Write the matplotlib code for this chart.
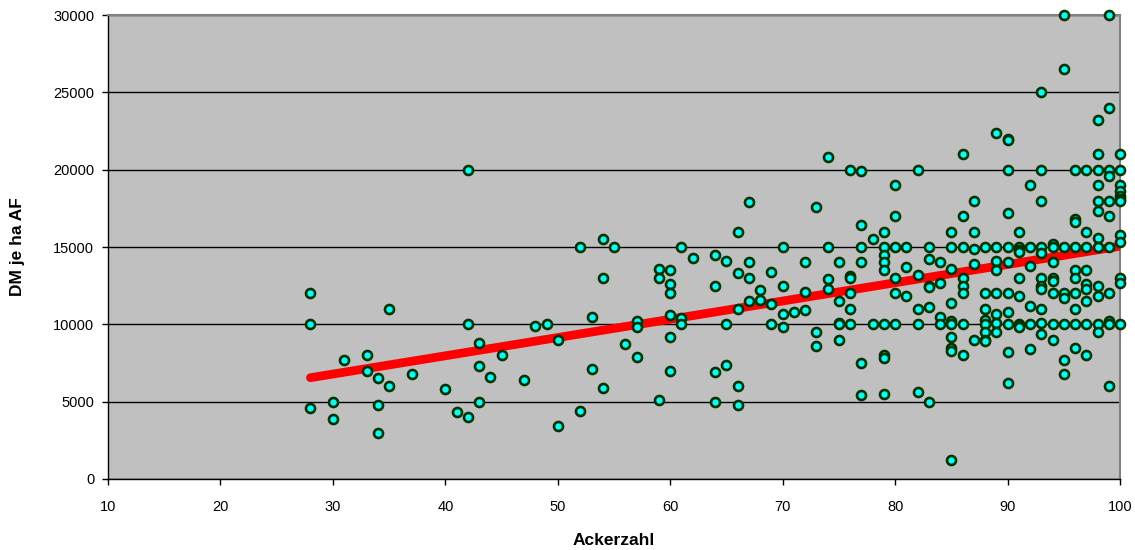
import matplotlib.pyplot as plt

# Ackerzahl (x) and DM je ha AF (y)
acker = [
    28, 28, 28, 30, 30, 31, 33, 33, 34, 34, 34, 35, 35, 37, 40, 41,
    42, 42, 42, 43, 43, 43, 44, 45, 47, 48, 49, 50, 50,
    52, 52, 53, 53, 54, 54, 54, 55, 56, 57, 57, 57,
    59, 59, 59, 60, 60, 60, 60, 60, 60, 61, 61, 61, 62,
    64, 64, 64, 64, 65, 65, 65, 66, 66, 66, 66, 66,
    67, 67, 67, 67, 68, 68, 69, 69, 69, 70, 70, 70, 70, 71,
    72, 72, 72, 73, 73, 73, 74, 74, 74, 74, 75, 75, 75, 75, 75,
    76, 76, 76, 76, 76, 76, 77, 77, 77, 77, 77, 77, 78, 78,
    79, 79, 79, 79, 79, 79, 79, 79, 79,
    80, 80, 80, 80, 80, 80, 81, 81, 81, 82, 82, 82, 82, 82,
    83, 83, 83, 83, 83, 83, 84, 84, 84, 84,
    85, 85, 85, 85, 85, 85, 85, 85, 85, 85,
    86, 86, 86, 86, 86, 86, 86, 86, 87, 87, 87, 87, 87,
    88, 88, 88, 88, 88, 88, 88, 88,
    89, 89, 89, 89, 89, 89, 89, 89,
    90, 90, 90, 90, 90, 90, 90, 90, 90, 90, 90,
    91, 91, 91, 91, 91, 91, 91, 91, 91,
    92, 92, 92, 92, 92, 92,
    93, 93, 93, 93, 93, 93, 93, 93, 93, 93, 93,
    94, 94, 94, 94, 94, 94, 94, 94,
    95, 95, 95, 95, 95, 95, 95, 95,
    96, 96, 96, 96, 96, 96, 96, 96, 96, 96,
    97, 97, 97, 97, 97, 97, 97, 97, 97,
    98, 98, 98, 98, 98, 98, 98, 98, 98, 98, 98, 98,
    99, 99, 99, 99, 99, 99, 99, 99, 99, 99, 99,
    100, 100, 100, 100, 100, 100, 100, 100, 100, 100, 100, 100,
]
dm = [
    12000, 10000, 4600, 5000, 3900, 7700, 8000, 7000, 6500, 4800, 3000, 11000, 6000, 6800, 5800, 4300,
    20000, 10000, 4000, 8800, 7300, 5000, 6600, 8000, 6400, 9900, 10000, 9000, 3400,
    4400, 15000, 10500, 7100, 15500, 13000, 5900, 15000, 8700, 10200, 9800, 7900,
    13600, 13000, 5100, 13500, 12600, 12000, 10600, 9200, 7000, 15000, 10400, 10000, 14300,
    14500, 12500, 6900, 5000, 14100, 10000, 7400, 16000, 13300, 11000, 6000, 4800,
    17900, 14000, 13000, 11500, 12200, 11600, 13400, 11300, 10000, 15000, 12500, 10700, 9800, 10800,
    14000, 12100, 10900, 17600, 9500, 8600, 20800, 15000, 12900, 12300, 14000, 11500, 10100, 10000, 9000,
    20000, 13100, 13000, 12000, 11000, 10000, 19900, 16400, 15000, 14000, 7500, 5400, 15500, 10000,
    16000, 15000, 14500, 14000, 13500, 10000, 8000, 7800, 5500,
    19000, 17000, 15000, 13000, 12000, 10000, 15000, 13700, 11800, 20000, 13200, 11000, 10000, 5600,
    15000, 14200, 12500, 12400, 11100, 5000, 14000, 12700, 10500, 10000,
    16000, 15000, 13600, 11400, 10200, 10000, 9200, 8500, 8300, 1200,
    21000, 17000, 15000, 13000, 12500, 12000, 10000, 8000, 18000, 16000, 14900, 13900, 9000,
    15000, 12000, 11000, 10300, 10000, 9500, 9000, 8900,
    22400, 15000, 14100, 13500, 12000, 10700, 10100, 9500,
    22000, 21900, 20000, 17200, 15000, 14000, 12000, 10800, 10000, 8200, 6200,
    16000, 15000, 14800, 14700, 13000, 11800, 10000, 9900, 9800,
    19000, 15000, 13800, 11200, 10000, 8400,
    25000, 20000, 18000, 15000, 14600, 13000, 12500, 12300, 11000, 10100, 9400,
    15200, 15000, 14000, 13000, 12800, 12000, 10000, 9000,
    30000, 26500, 15000, 12000, 11700, 10000, 7700, 6800,
    20000, 16800, 16600, 15000, 13500, 13000, 12000, 11000, 10000, 8500,
    20000, 16000, 15000, 13500, 12600, 12300, 11500, 10000, 8000,
    23200, 21000, 20000, 19000, 18000, 17300, 15600, 15000, 12500, 11800, 10000, 9500,
    30000, 24000, 20000, 19600, 18000, 17000, 15000, 12000, 10200, 10000, 6000,
    21000, 20000, 19000, 18600, 18300, 18100, 18000, 15800, 15300, 13000, 12700, 10000,
]

# linear trend line end points
trend_x = [28, 100]
trend_y = [6550, 15050]

x_ticks = list(range(10, 101, 10))
y_ticks = list(range(0, 30001, 5000))

plt.rcParams['font.family'] = ['Liberation Sans', 'DejaVu Sans']

fig = plt.figure(figsize=(11.35, 5.5), dpi=100)
ax = fig.add_axes([0.0952, 0.1291, 0.8916, 0.8436])
ax.set_facecolor('#c0c0c0')

ax.plot(trend_x, trend_y, color='#ff0000', lw=6.3, solid_capstyle='round', zorder=3)
ax.scatter(acker, dm, s=42, marker='o', facecolor='#00ffff',
           edgecolor='#003300', linewidths=1.9, zorder=4, clip_on=False)

ax.set_xlim(10, 100)
ax.set_ylim(0, 30000)
ax.set_xticks(x_ticks)
ax.set_yticks(y_ticks)
ax.yaxis.grid(True, color='#000000', lw=1)
ax.set_axisbelow(True)

for side in ['top', 'right']:
    ax.spines[side].set_color('#808080')
    ax.spines[side].set_linewidth(1.5)
for side in ['left', 'bottom']:
    ax.spines[side].set_color('#000000')
    ax.spines[side].set_linewidth(1)

ax.tick_params(axis='both', labelsize=10.5, length=4, width=1, color='#000000')
ax.tick_params(axis='x', pad=11)
ax.tick_params(axis='y', pad=6)
ax.set_xlabel('Ackerzahl', fontsize=12.5, fontweight='bold', labelpad=14)
ax.set_ylabel('DM je ha AF', fontsize=12.5, fontweight='bold', labelpad=20)

fig.savefig('out.png', dpi=100)
